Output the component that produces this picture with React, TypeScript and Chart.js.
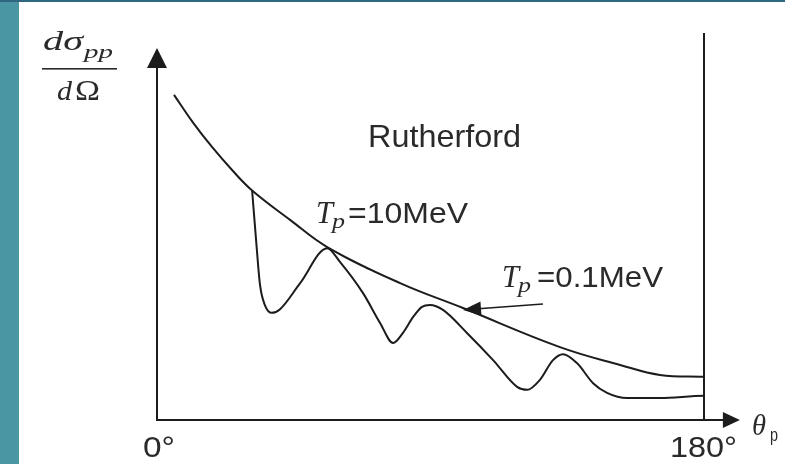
import React, { useEffect, useRef } from "react";
import { Chart, registerables } from "chart.js";

Chart.register(...registerables);

// Scattering angle (degrees) and relative cross-section (arbitrary units)
const rutherfordTheta = [5.6, 11.8, 18.1, 24.7, 31.3, 43.8, 56.0, 80.0, 100.7, 132.6, 152.4, 165.5, 180, 181.3];
const rutherfordValue = [87.4, 80.0, 73.4, 67.2, 61.7, 53.8, 46.5, 36.8, 30.1, 19.6, 14.8, 12.1, 11.6, 11.6];

const tenMeVTheta = [31.3, 32.6, 33.9, 35.5, 37.8, 40.5, 47.1, 56.0, 60.2, 67.8, 73.4, 77.7, 81.0, 84.3, 87.2, 89.8, 94.1, 102.0, 110.6, 118.5, 121.8, 126.0, 130.3, 133.6, 138.2, 143.5, 148.1, 154.7, 165.5, 180, 181.3];
const tenMeVValue = [61.7, 48.4, 36.3, 30.9, 28.8, 29.8, 36.8, 46.2, 42.5, 34.1, 26.1, 20.7, 23.5, 27.7, 30.4, 30.9, 29.6, 23.4, 16.1, 8.9, 8.1, 10.8, 16.1, 17.7, 15.3, 9.9, 7.3, 5.9, 5.9, 6.5, 6.5];

const xTickLabels = ["0°", "180°"];
const annotationLabels = ["Rutherford", "=10MeV", "=0.1MeV"];
// arrow pointing at the Rutherford curve: [theta, value] start -> end
const arrowFrom = [127.0, 31.2];
const arrowTo = [100.7, 29.6];

const INK = "#1c1c1c";

function drawText(ctx: CanvasRenderingContext2D, s: string, x: number, y: number, font: string, w?: number) {
  ctx.font = font;
  if (w) {
    const m = ctx.measureText(s).width;
    ctx.save();
    ctx.translate(x, y);
    ctx.scale(w / m, 1);
    ctx.fillText(s, 0, 0);
    ctx.restore();
  } else {
    ctx.fillText(s, x, y);
  }
}

const decorPlugin = {
  id: "decor",
  beforeDraw(chart: any) {
    const ctx = chart.ctx as CanvasRenderingContext2D;
    const W = chart.width, H = chart.height;
    ctx.save();
    ctx.fillStyle = "#4a96a2";
    ctx.fillRect(0, 0, W, H);
    ctx.fillStyle = "#2f6680";
    ctx.fillRect(0, 0, W, 2);
    ctx.fillStyle = "#ffffff";
    ctx.fillRect(19, 2, W - 19, H - 2);
    ctx.restore();
  },
  afterDraw(chart: any) {
    const ctx = chart.ctx as CanvasRenderingContext2D;
    const xs = chart.scales.x, ys = chart.scales.y;
    const x0 = xs.getPixelForValue(0);
    const y0 = ys.getPixelForValue(0);
    const yTop = ys.getPixelForValue(100);
    const xEnd = xs.getPixelForValue(191.8);
    const x180 = xs.getPixelForValue(180);
    ctx.save();
    ctx.strokeStyle = INK;
    ctx.fillStyle = INK;
    ctx.lineWidth = 2;
    // y axis
    ctx.beginPath();
    ctx.moveTo(x0, y0 + 1);
    ctx.lineTo(x0, yTop + 18);
    ctx.stroke();
    ctx.beginPath();
    ctx.moveTo(x0, yTop);
    ctx.lineTo(x0 - 10, yTop + 20);
    ctx.lineTo(x0 + 10, yTop + 20);
    ctx.closePath();
    ctx.fill();
    // x axis
    ctx.beginPath();
    ctx.moveTo(x0 - 1, y0);
    ctx.lineTo(xEnd - 15, y0);
    ctx.stroke();
    ctx.beginPath();
    ctx.moveTo(xEnd, y0);
    ctx.lineTo(xEnd - 17, y0 - 8);
    ctx.lineTo(xEnd - 17, y0 + 8);
    ctx.closePath();
    ctx.fill();
    // 180 degree line
    ctx.beginPath();
    ctx.moveTo(x180, ys.getPixelForValue(104));
    ctx.lineTo(x180, y0);
    ctx.stroke();
    // arrow to Rutherford
    const ax1 = xs.getPixelForValue(arrowFrom[0]), ay1 = ys.getPixelForValue(arrowFrom[1]);
    const ax2 = xs.getPixelForValue(arrowTo[0]), ay2 = ys.getPixelForValue(arrowTo[1]);
    const ang = Math.atan2(ay2 - ay1, ax2 - ax1);
    ctx.lineWidth = 1.5;
    ctx.beginPath();
    ctx.moveTo(ax1, ay1);
    ctx.lineTo(ax2 - 12 * Math.cos(ang), ay2 - 12 * Math.sin(ang));
    ctx.stroke();
    ctx.beginPath();
    ctx.moveTo(ax2, ay2);
    const hl = 18, hw = 7;
    const bx = ax2 - hl * Math.cos(ang), by = ay2 - hl * Math.sin(ang);
    ctx.lineTo(bx + hw * Math.sin(ang), by - hw * Math.cos(ang));
    ctx.lineTo(bx - hw * Math.sin(ang), by + hw * Math.cos(ang));
    ctx.closePath();
    ctx.fill();

    // texts
    ctx.fillStyle = "#2a2a2a";
    ctx.textBaseline = "alphabetic";
    ctx.textAlign = "left";
    const serifI = (s: number) => `italic ${s}px "Liberation Serif"`;
    const serif = (s: number) => `${s}px "Liberation Serif"`;
    const sans = (s: number) => `${s}px "Liberation Sans"`;
    // y label fraction
    drawText(ctx, "dσ", 43, 50, serifI(27), 40);
    drawText(ctx, "pp", 84, 58, serifI(19), 29);
    ctx.fillRect(42, 68, 75, 1.6);
    drawText(ctx, "d", 57, 100, serifI(27), 15);
    drawText(ctx, "Ω", 75, 100, serif(29), 25);
    // x ticks
    drawText(ctx, xTickLabels[0], 143, 457, sans(30), 32);
    drawText(ctx, xTickLabels[1], 670, 457, sans(30), 67);
    drawText(ctx, "θ", 752, 435, serifI(30), 14);
    drawText(ctx, "p", 770, 441, sans(19), 8);
    // annotations
    drawText(ctx, annotationLabels[0], 368, 147, sans(32), 153);
    drawText(ctx, "T", 316, 223, serifI(31), 17);
    drawText(ctx, "p", 332, 228, serifI(22), 13);
    drawText(ctx, annotationLabels[1], 348, 223, sans(29), 120);
    drawText(ctx, "T", 502, 287, serifI(31), 17);
    drawText(ctx, "p", 518, 292, serifI(22), 13);
    drawText(ctx, annotationLabels[2], 537, 287, sans(29), 126);
    ctx.restore();
  },
};

export default function App() {
  const ref = useRef<HTMLCanvasElement | null>(null);
  useEffect(() => {
    if (!ref.current) return;
    const chart = new Chart(ref.current, {
      type: "line",
      data: {
        datasets: [
          {
            label: "Rutherford",
            data: rutherfordTheta.map((t, i) => ({ x: t, y: rutherfordValue[i] })),
            borderColor: INK,
            borderWidth: 2,
            pointRadius: 0,
            tension: 0.4,
            clip: false as any,
          },
          {
            label: "Tp=10MeV",
            data: tenMeVTheta.map((t, i) => ({ x: t, y: tenMeVValue[i] })),
            borderColor: INK,
            borderWidth: 2,
            pointRadius: 0,
            cubicInterpolationMode: "monotone",
            clip: false as any,
          },
        ],
      },
      options: {
        animation: false,
        responsive: false,
        devicePixelRatio: 1,
        layout: { padding: { left: 157, top: 48, right: 81, bottom: 44 } },
        plugins: { legend: { display: false }, tooltip: { enabled: false } },
        scales: {
          x: { type: "linear", min: 0, max: 180, display: false },
          y: { type: "linear", min: 0, max: 100, display: false },
        },
      },
      plugins: [decorPlugin],
    });
    return () => chart.destroy();
  }, []);
  return (
    <div style={{ position: "fixed", left: 0, top: 0, width: 785, height: 464 }}>
      <canvas ref={ref} width={785} height={464} style={{ display: "block" }} />
    </div>
  );
}
